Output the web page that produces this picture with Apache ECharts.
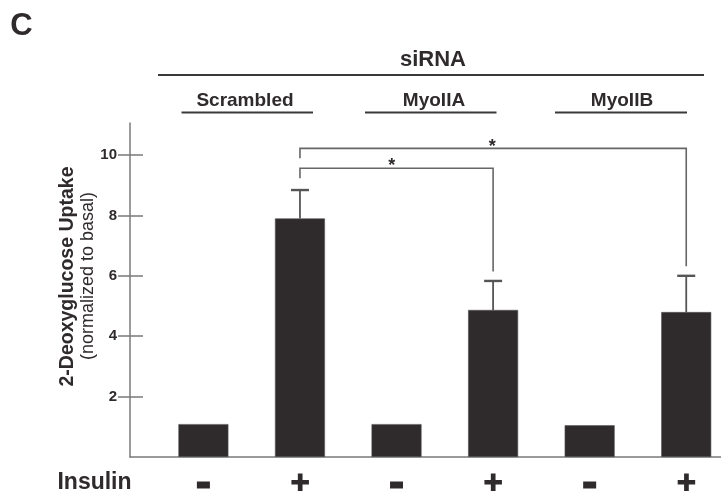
<!DOCTYPE html>
<html><head><meta charset="utf-8">
<script src="https://cdn.jsdelivr.net/npm/echarts@6/dist/echarts.min.js"></script>
<style>html,body{margin:0;padding:0;background:#fff}#c{width:721px;height:497px}</style>
</head><body><div id="c"></div>
<script>
// ---- data ----
const groups = ['Scrambled', 'MyoIIA', 'MyoIIB'];
const insulin = ['-', '+', '-', '+', '-', '+'];
const uptake = [1.09, 7.9, 1.09, 4.87, 1.05, 4.8];
const sem = [0, 0.94, 0, 0.96, 0, 1.2];
const yTicks = [2, 4, 6, 8, 10];
// significance brackets (bar index from/to, y of bar line, leg ends, star position)
const bracketFrom = [1, 1];
const bracketTo = [3, 5];
const bracketLevel = [9.56, 10.22];
const bracketLeftEnd = [9.23, 9.89];
const bracketRightEnd = [6.14, 6.32];
const starIdx = [1.95, 2.99];
const starLevel = [9.76, 10.41];

const FONT = 'Liberation Sans, Arial, Helvetica, sans-serif';
const INK = '#2f2a2b';
const AXIS = '#7a7a7a';

const chart = echarts.init(document.getElementById('c'), null, {renderer: 'canvas'});

function txt(x, y, text, size, weight, rot) {
  return {type: 'text', x: x, y: y, rotation: rot || 0,
    style: {text: text, fill: INK, fontSize: size, fontWeight: weight, fontFamily: FONT,
      textAlign: 'center', align: 'center', textVerticalAlign: 'middle', verticalAlign: 'middle'}};
}
function hline(x1, x2, y) {
  return {type: 'line', shape: {x1: x1, y1: y, x2: x2, y2: y}, style: {stroke: '#3a3a3a', lineWidth: 1.8}};
}

const groupCenters = [245, 434, 622];
const groupLines = [[181.5, 313], [365, 496.5], [555, 687]];

const graphics = [
  txt(21.5, 26, 'C', 31, 'bold'),
  txt(433, 60, 'siRNA', 22, 'bold'),
  hline(158, 704, 75),
  txt(68, 276.5, '2-Deoxyglucose Uptake', 19.5, 'bold', Math.PI / 2),
  txt(88.5, 276, '(normalized to basal)', 18, 'normal', Math.PI / 2),
  txt(94.5, 483, 'Insulin', 23, 'bold')
];
groups.forEach((g, k) => {
  graphics.push(txt(groupCenters[k], 100.5, g, 19, 'bold'));
  graphics.push(hline(groupLines[k][0], groupLines[k][1], 112.5));
});

const option = {
  animation: false,
  backgroundColor: '#fff',
  grid: {left: 130, right: 0, top: 123, bottom: 40, containLabel: false, outerBoundsMode: 'none'},
  xAxis: {
    type: 'value', min: -0.76, max: 5.36,
    splitLine: {show: false},
    axisLine: {show: true, onZero: false, lineStyle: {color: AXIS, width: 1.5}},
    axisTick: {show: false},
    axisLabel: {
      customValues: [0, 1, 2, 3, 4, 5],
      margin: 28, verticalAlign: 'middle',
      formatter: v => insulin[Math.round(v)] === '+' ? '{p|\u271A}' : '{m| }',
      rich: {
        m: {width: 13, height: 7, backgroundColor: INK},
        p: {fontSize: 24, fontFamily: 'DejaVu Sans', color: INK}
      }
    }
  },
  yAxis: [{
    type: 'value', min: 0, max: 11.06, position: 'left',
    splitLine: {show: false},
    axisLine: {show: true, onZero: false, lineStyle: {color: AXIS, width: 1.5}},
    axisTick: {show: true, customValues: yTicks, length: 12, lineStyle: {color: AXIS, width: 1.5}},
    axisLabel: {customValues: yTicks, margin: 13, color: INK, fontSize: 15, fontWeight: 'bold', fontFamily: FONT}
  }, {
    type: 'value', min: 0, max: 11.06, position: 'left',
    splitLine: {show: false},
    axisLine: {show: false, onZero: false},
    axisTick: {show: true, inside: true, customValues: yTicks, length: 13, lineStyle: {color: AXIS, width: 1.5}},
    axisLabel: {show: false}
  }],
  graphic: graphics,
  series: [{
    type: 'bar',
    barWidth: 50,
    data: uptake.map((v, i) => [i, v]),
    itemStyle: {color: INK, borderColor: '#555', borderWidth: 0.6},
    z: 2
  }, {
    type: 'custom',
    z: 3,
    encode: {x: 0, y: [1, 2]},
    data: uptake.map((v, i) => [i, v, v + sem[i]]),
    renderItem: function (params, api) {
      const i = api.value(0), v = api.value(1), t = api.value(2);
      if (t <= v) return null;
      const b = api.coord([i, v]), top = api.coord([i, t]);
      const sty = {stroke: '#555', lineWidth: 1.8};
      return {type: 'group', children: [
        {type: 'line', shape: {x1: b[0], y1: b[1], x2: top[0], y2: top[1]}, style: sty},
        {type: 'line', shape: {x1: top[0] - 9, y1: top[1], x2: top[0] + 9, y2: top[1]}, style: {stroke: '#555', lineWidth: 2.4}}
      ]};
    }
  }, {
    type: 'custom',
    z: 3,
    encode: {x: [0, 1, 5], y: [2, 3, 4, 6]},
    data: bracketFrom.map((f, k) => [f, bracketTo[k], bracketLevel[k], bracketLeftEnd[k], bracketRightEnd[k], starIdx[k], starLevel[k]]),
    renderItem: function (params, api) {
      const f = api.value(0), t = api.value(1), lv = api.value(2), le = api.value(3), re = api.value(4);
      const p1 = api.coord([f, le]), p2 = api.coord([f, lv]), p3 = api.coord([t, lv]), p4 = api.coord([t, re]);
      const s = api.coord([api.value(5), api.value(6)]);
      return {type: 'group', children: [
        {type: 'polyline', shape: {points: [p1, p2, p3, p4]}, style: {stroke: '#666', lineWidth: 1.6, fill: null}},
        {type: 'text', x: s[0], y: s[1] + 4, style: {text: '*', fill: INK, fontSize: 18, fontWeight: 'bold', fontFamily: FONT,
          textAlign: 'center', align: 'center', textVerticalAlign: 'middle', verticalAlign: 'middle'}}
      ]};
    }
  }]
};
chart.setOption(option);
</script>
</body></html>
